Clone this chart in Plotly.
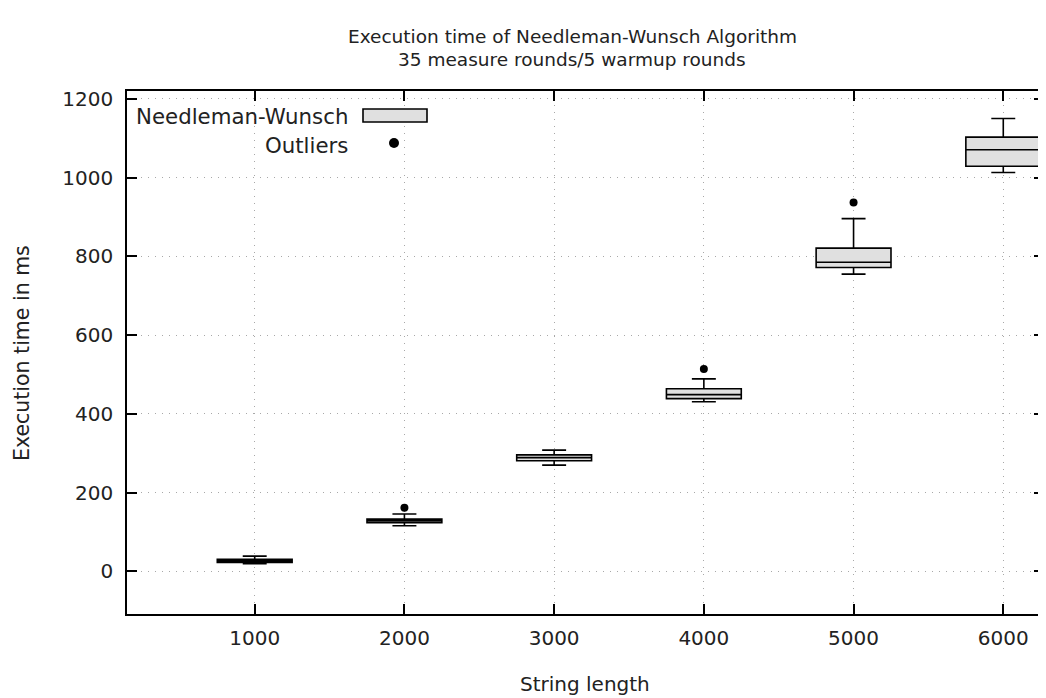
import plotly.graph_objects as go

# Data
string_length = [1000, 2000, 3000, 4000, 5000, 6000]
lower_whisker = [20, 116, 270, 431, 755, 1013]
q1 = [23, 124, 281, 439, 772, 1029]
median = [27, 129, 289, 449, 785, 1071]
q3 = [31, 133, 296, 464, 821, 1103]
upper_whisker = [39, 146, 308, 489, 896, 1150]
outlier_x = [2000, 4000, 5000]
outlier_y = [162, 514, 937]

x_ticks = [1000, 2000, 3000, 4000, 5000, 6000]
y_ticks = [0, 200, 400, 600, 800, 1000, 1200]

title_lines = ["Execution time of Needleman-Wunsch Algorithm", "35 measure rounds/5 warmup rounds"]

FONT = "DejaVu Sans"
TXT = "#222222"
OFF = 8  # page body margin
W, H = 1046 - OFF, 698 - OFF
# plot area in page pixels
PL, PR, PT, PB = 127, 1044, 91, 614
L, R, T, B = PL - OFF, W - (PR - OFF), PT - OFF, H - (PB - OFF)

fig = go.Figure()
fig.add_trace(go.Box(
    x=string_length, q1=q1, median=median, q3=q3,
    lowerfence=lower_whisker, upperfence=upper_whisker,
    width=500, whiskerwidth=0.32,
    fillcolor="#e0e0e0", line=dict(color="black", width=1.6),
    name="Needleman-Wunsch", showlegend=False, boxpoints=False,
))
fig.add_trace(go.Scatter(
    x=outlier_x, y=outlier_y, mode="markers",
    marker=dict(color="black", size=8),
    name="Outliers", showlegend=False,
))

axis_common = dict(
    showline=True, linecolor="black", linewidth=1.5, mirror="ticks",
    ticks="inside", ticklen=10, tickwidth=1.5, tickcolor="black",
    showgrid=True, gridcolor="#a8a8a8", griddash="1px,6px", gridwidth=1.2,
    zeroline=False, tickfont=dict(family=FONT, size=20, color=TXT),
)
fig.update_xaxes(range=[147, 6272], tickvals=x_ticks, ticklabelstandoff=5, **axis_common)
fig.update_yaxes(range=[-108, 1220], tickvals=y_ticks, ticklabelstandoff=8, **axis_common)

pw = PR - PL
ph = PB - PT
def px(xp):
    return (xp - PL) / pw
def py(yp):
    return 1 - (yp - PT) / ph

# Title (two lines, gnuplot style)
for line, yc in zip(title_lines, [36, 59]):
    fig.add_annotation(text=line, xref="paper", yref="paper", x=px(572), y=py(yc), showarrow=False,
                       font=dict(family=FONT, size=18.5, color=TXT), xanchor="center", yanchor="middle")

# Axis titles
fig.add_annotation(text="String length", xref="paper", yref="paper", x=px(585), y=py(684),
                   showarrow=False, xanchor="center", yanchor="middle",
                   font=dict(family=FONT, size=20, color=TXT))
fig.add_annotation(text="Execution time in ms", xref="paper", yref="paper", x=px(22), y=py(353),
                   showarrow=False, xanchor="center", yanchor="middle", textangle=-90,
                   font=dict(family=FONT, size=20.5, color=TXT))

# Legend (gnuplot style: text then sample)
fig.add_annotation(text="Needleman-Wunsch", xref="paper", yref="paper", x=px(350), y=py(116),
                   showarrow=False, xanchor="right", yanchor="middle",
                   font=dict(family=FONT, size=21.3, color=TXT))
fig.add_annotation(text="Outliers", xref="paper", yref="paper", x=px(350), y=py(145),
                   showarrow=False, xanchor="right", yanchor="middle",
                   font=dict(family=FONT, size=21.3, color=TXT))
fig.add_shape(type="rect", xref="paper", yref="paper", x0=px(363), x1=px(427), y0=py(109), y1=py(122),
              fillcolor="#e0e0e0", line=dict(color="black", width=1.6))
fig.add_shape(type="circle", xref="paper", yref="paper", x0=px(389), x1=px(399), y0=py(138), y1=py(148),
              fillcolor="black", line=dict(color="black", width=0))

fig.update_layout(
    width=W, height=H, margin=dict(l=L, r=R, t=T, b=B, autoexpand=False),
    plot_bgcolor="white", paper_bgcolor="white",
    font=dict(family=FONT),
)
fig.write_html("out.html")
